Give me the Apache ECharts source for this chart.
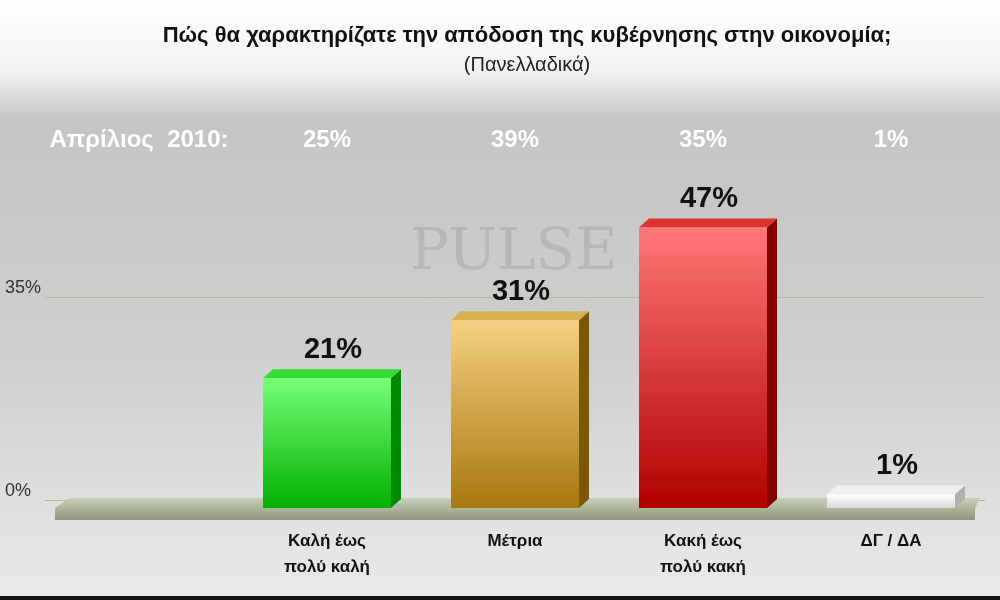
<!DOCTYPE html>
<html><head><meta charset="utf-8">
<script src="https://cdn.jsdelivr.net/npm/echarts@6/dist/echarts.min.js"></script>
<style>body{margin:0}#c{width:1000px;height:600px}</style></head>
<body><div id="c"></div>
<script>
var categories = ['', 'Καλή έως\nπολύ καλή', 'Μέτρια', 'Κακή έως\nπολύ κακή', 'ΔΓ / ΔΑ'];
var values = [null, 21, 31, 47, 1];
var aprilLabels = ['Απρίλιος  2010:', '25%', '39%', '35%', '1%'];
var faces = [
  null,
  ['#77ff77', '#00b000', '#008a00', '#33dd33'],
  ['#f5d080', '#a87810', '#7a5808', '#d8b050'],
  ['#ff7777', '#b00000', '#880000', '#dd3333'],
  ['#ffffff', '#d8d8d8', '#b0b0b0', '#f0f0f0']
];

var chart = echarts.init(document.getElementById('c'));

function render3d(params, api) {
  var i = api.value(0);
  var v = api.value(1);
  var c = faces[i];
  var base = api.coord([i, 0]);
  var top = api.coord([i, v]);
  var w = 128, dx = 10, dy = 9;
  var x0 = base[0] - w / 2, x1 = base[0] + w / 2;
  var yb = base[1] + 8, yt = Math.min(top[1], yb - 10);
  return {
    type: 'group',
    children: [
      { type: 'polygon', shape: { points: [[x1, yt], [x1 + dx, yt - dy], [x1 + dx, yb - dy], [x1, yb]] }, style: { fill: c[2] } },
      { type: 'polygon', shape: { points: [[x0, yt], [x0 + dx, yt - dy], [x1 + dx, yt - dy], [x1, yt]] }, style: { fill: c[3] } },
      { type: 'rect', shape: { x: x0, y: yt, width: w, height: yb - yt },
        style: { fill: new echarts.graphic.LinearGradient(0, 0, 0, 1, [{ offset: 0, color: c[0] }, { offset: 1, color: c[1] }]) } },
      { type: 'text', style: { text: v + '%', x: base[0] + 6, y: yt - 14, align: 'center', verticalAlign: 'bottom',
        font: 'bold 29px Arial, "Liberation Sans", sans-serif', fill: '#111' } }
    ]
  };
}

var data = [];
for (var i = 1; i < values.length; i++) data.push([i, values[i]]);

chart.setOption({
  backgroundColor: new echarts.graphic.LinearGradient(0, 0, 0, 1, [
    { offset: 0, color: '#ffffff' }, { offset: 0.12, color: '#f2f2f2' }, { offset: 0.2, color: '#c4c4c4' },
    { offset: 0.6, color: '#cfcfcf' }, { offset: 1, color: '#eaeaea' }]),
  title: {
    text: 'Πώς θα χαρακτηρίζατε την απόδοση της κυβέρνησης στην οικονομία;',
    subtext: '(Πανελλαδικά)',
    left: 522, top: 20, textAlign: 'center', itemGap: 8,
    textStyle: { fontFamily: 'Arial, "Liberation Sans"', fontWeight: 'bold', fontSize: 22, color: '#111' },
    subtextStyle: { fontFamily: 'Arial, "Liberation Sans"', fontSize: 20, color: '#222' }
  },
  graphic: [
    { type: 'text', left: 410, top: 225, silent: true, z: 0,
      style: { text: 'PULSE', font: '58px "DejaVu Serif", serif', fill: 'rgba(160,160,160,0.45)' } },
    { type: 'text', left: 414, top: 300, silent: true, z: 0,
      style: { text: 'RESEARCH & CONSULTING', font: '12px "DejaVu Serif", serif', fill: 'rgba(200,200,200,0.7)' } },
    { type: 'polygon', z: 1, shape: { points: [[55, 508], [70, 498], [980, 498], [975, 508], [975, 520], [55, 520]] },
      style: { fill: new echarts.graphic.LinearGradient(0, 0, 0, 1, [{ offset: 0, color: '#c9d0b8' }, { offset: 1, color: '#8d957c' }]) } },
    { type: 'rect', shape: { x: 0, y: 596, width: 1000, height: 4 }, style: { fill: '#111' } }
  ],
  grid: { left: 45, right: 15, top: 94, bottom: 100 },
  xAxis: [
    { type: 'category', data: categories, position: 'bottom',
      axisLine: { show: false }, axisTick: { show: false },
      axisLabel: { interval: 0, margin: 28, fontFamily: 'Arial, "Liberation Sans"', fontWeight: 'bold', fontSize: 17, color: '#111', lineHeight: 26 } },
    { type: 'category', data: aprilLabels, position: 'top',
      axisLine: { show: false }, axisTick: { show: false },
      axisLabel: { interval: 0, margin: -58, fontFamily: 'Arial, "Liberation Sans"', fontWeight: 'bold', fontSize: 24, color: '#fff' } }
  ],
  yAxis: {
    type: 'value', min: 0, max: 70, interval: 35,
    axisLine: { show: false }, axisTick: { show: false },
    splitLine: { lineStyle: { color: ['#b8b89a', '#b8b89a', 'transparent'], width: 1 } },
    axisLabel: { margin: 10, align: 'left', padding: [0, 0, 0, -30], verticalAlign: 'bottom', fontFamily: 'Arial, "Liberation Sans"', fontSize: 18, color: '#333',
      formatter: function (v) { return v === 70 ? '' : v + '%'; } }
  },
  series: [{ type: 'custom', z: 5, renderItem: render3d, data: data, encode: { x: 0, y: 1 } }]
});
</script></body></html>
